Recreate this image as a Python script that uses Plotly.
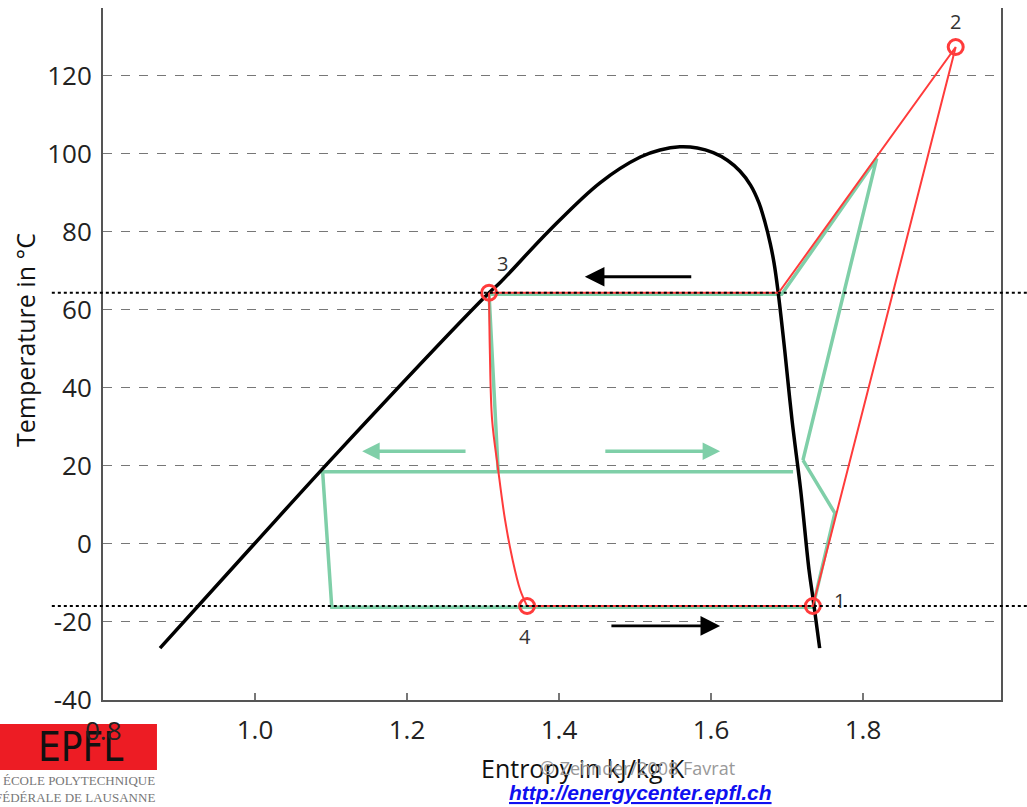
import plotly.graph_objects as go

# ---------------- data ----------------
# saturation dome (entropy kJ/kg K, temperature degC)
dome_s = [0.875, 0.999, 1.108, 1.308, 1.322, 1.388, 1.454, 1.507, 1.533, 1.559,
          1.582, 1.603, 1.622, 1.638, 1.652, 1.663, 1.671, 1.678, 1.683, 1.688, 1.697,
          1.7066, 1.718, 1.729, 1.734, 1.743]
dome_T = [-26.7, 0.0, 23.3, 64.4, 66.9, 80.5, 92.6, 99.2, 101.0, 101.8,
          101.5, 100.3, 98.3, 95.6, 92.0, 87.5, 82.5, 77.0, 72.0, 65.1, 49.7,
          31.8, 13.8, -6.7, -13.6, -26.7]

# single-stage cycle (red): 4 -> 1 -> 2 -> desuperheat -> condensation -> 3
red_s = [1.358, 1.734, 1.922, 1.818, 1.689, 1.308]
red_T = [-15.9, -15.9, 127.4, 99.2, 64.4, 64.4]
# throttling 3 -> 4 (red curve)
exp_s = [1.308, 1.309, 1.312, 1.320, 1.329, 1.339, 1.349, 1.358]
exp_T = [64.4, 49.7, 31.8, 19.0, 6.2, -4.1, -11.8, -15.9]

# two-stage cycle (green)
gup_s = [1.721, 1.818, 1.693, 1.308, 1.320]
gup_T = [21.5, 98.8, 64.0, 64.0, 18.5]
glo_s = [1.708, 1.089, 1.101, 1.734, 1.763, 1.721]
glo_T = [18.5, 18.5, -16.2, -16.2, 7.9, 21.5]

# state points
pt_label = ["1", "2", "3", "4"]
pt_s = [1.734, 1.922, 1.308, 1.358]
pt_T = [-15.9, 127.4, 64.4, -15.9]

T_cond = 64.4
T_evap = -15.9

x_ticks = [0.8, 1.0, 1.2, 1.4, 1.6, 1.8]
x_ticktext = ["", "1.0", "1.2", "1.4", "1.6", "1.8"]
y_ticks = [-40, -20, 0, 20, 40, 60, 80, 100, 120]
y_ticktext = ["-40", "-20", "0", "20", "40", "60", "80", "100", "120"]

# direction arrows: (tail_s, tail_T, head_s, head_T)
black_arrows = [(1.576, 68.5, 1.434, 68.5), (1.467, -21.0, 1.612, -21.0)]
green_arrows = [(1.279, 23.8, 1.141, 23.8), (1.459, 23.8, 1.612, 23.8)]

RED = "#ff3b3b"
GREEN = "#7fcfa8"
FONT = "Open Sans"

fig = go.Figure()
fig.add_trace(go.Scatter(x=gup_s, y=gup_T, mode="lines",
                         line=dict(color=GREEN, width=3.5), hoverinfo="skip"))
fig.add_trace(go.Scatter(x=glo_s, y=glo_T, mode="lines",
                         line=dict(color=GREEN, width=3.5), hoverinfo="skip"))
fig.add_trace(go.Scatter(x=dome_s, y=dome_T, mode="lines",
                         line=dict(color="black", width=3.5, shape="spline", smoothing=1.0),
                         hoverinfo="skip"))
fig.add_trace(go.Scatter(x=red_s, y=red_T, mode="lines",
                         line=dict(color=RED, width=2), hoverinfo="skip"))
fig.add_trace(go.Scatter(x=exp_s, y=exp_T, mode="lines",
                         line=dict(color=RED, width=2, shape="spline"), hoverinfo="skip"))
fig.add_trace(go.Scatter(x=pt_s, y=pt_T, mode="markers",
                         marker=dict(symbol="circle-open", size=15, color=RED,
                                     line=dict(width=3, color=RED)),
                         hoverinfo="skip"))

# state labels
shifts = {"1": (27, 5), "2": (0, 26), "3": (13, 29), "4": (-2, -31)}
for lab, s, T in zip(pt_label, pt_s, pt_T):
    dx, dy = shifts[lab]
    fig.add_annotation(x=s, y=T, text=lab, showarrow=False, xshift=dx, yshift=dy,
                       xanchor="center", yanchor="middle",
                       font=dict(family=FONT, size=20, color="#333"))

for (s0, T0, s1, T1) in black_arrows:
    fig.add_annotation(x=s1, y=T1, ax=s0, ay=T0, xref="x", yref="y",
                       axref="x", ayref="y", text="", showarrow=True,
                       arrowhead=2, arrowsize=1.4, arrowwidth=2.8, arrowcolor="black")
for (s0, T0, s1, T1) in green_arrows:
    fig.add_annotation(x=s1, y=T1, ax=s0, ay=T0, xref="x", yref="y",
                       axref="x", ayref="y", text="", showarrow=True,
                       arrowhead=2, arrowsize=1.0, arrowwidth=3.5, arrowcolor=GREEN)

# dotted reference lines at condensation / evaporation temperatures
for T in (T_cond, T_evap):
    fig.add_shape(type="line", xref="paper", yref="y", x0=-0.057, x1=1.03, y0=T, y1=T,
                  line=dict(color="black", width=2, dash="dot"), layer="above")

# EPFL logo
fig.add_shape(type="rect", xref="paper", yref="paper", x0=-0.1147, x1=0.0601,
              y0=-0.1012, y1=-0.0347, fillcolor="#ed1c24", line=dict(width=0),
              layer="below")
fig.add_annotation(xref="paper", yref="paper", x=-0.025, y=-0.068, text="EPFL",
                   xanchor="center", yanchor="middle", showarrow=False,
                   font=dict(family="DejaVu Sans Condensed", size=40, color="#111"))
fig.add_annotation(xref="paper", yref="paper", x=0.0601, y=-0.117, xanchor="right",
                   yanchor="middle", text="ÉCOLE POLYTECHNIQUE", showarrow=False,
                   font=dict(family="Liberation Serif", size=13, color="#777"))
fig.add_annotation(xref="paper", yref="paper", x=0.0601, y=-0.141, xanchor="right",
                   yanchor="middle", text="FÉDÉRALE DE LAUSANNE", showarrow=False,
                   font=dict(family="Liberation Serif", size=13, color="#777"))
# tick label 0.8 drawn over logo
fig.add_annotation(xref="x", yref="paper", x=0.8, y=-0.0434, text="0.8", showarrow=False,
                   xanchor="center", yanchor="middle",
                   font=dict(family=FONT, size=26, color="#222"))

# axis titles
fig.add_annotation(xref="paper", yref="paper", x=0.534, y=-0.098, text="Entropy in kJ/kg K",
                   xanchor="center", yanchor="middle",
                   showarrow=False, font=dict(family=FONT, size=25, color="#111"))
fig.add_annotation(xref="paper", yref="paper", x=0.484, y=-0.098, xanchor="left",
                   yanchor="middle", text="© Zehnder/2008 Favrat", showarrow=False,
                   font=dict(family=FONT, size=18, color="#999"))
fig.add_annotation(xref="paper", yref="paper", x=-0.087, y=0.52, text="Temperature in °C",
                   xanchor="center", yanchor="middle",
                   textangle=-90, showarrow=False, font=dict(family=FONT, size=25, color="#111"))
fig.add_annotation(xref="paper", yref="paper", x=0.598, y=-0.133,
                   xanchor="center", yanchor="middle",
                   text="<b><i>http://energycenter.epfl.ch</i></b>", showarrow=False,
                   font=dict(family="Liberation Sans", size=21, color="#1010f0",
                             lineposition="under"))

fig.update_layout(
    width=1027, height=807, autosize=False,
    margin=dict(l=103, r=26, t=8, b=107),
    paper_bgcolor="white", plot_bgcolor="white",
    showlegend=False,
    font=dict(family=FONT, color="#222"),
    xaxis=dict(range=[0.8, 1.9816], showgrid=False, zeroline=False,
               showline=True, linecolor="#555", linewidth=2,
               ticks="inside", ticklen=7, tickwidth=1.5, tickcolor="#777",
               tickvals=x_ticks, ticktext=x_ticktext,
               tickfont=dict(family=FONT, size=26, color="#222"),
               ticklabelstandoff=6),
    yaxis=dict(range=[-40, 137.4], showgrid=True, gridcolor="#777", griddash="dash",
               gridwidth=1.3, zeroline=False, showline=True, mirror=True,
               linecolor="#555", linewidth=2, ticks="",
               tickvals=y_ticks, ticktext=y_ticktext,
               tickfont=dict(family=FONT, size=26, color="#222"),
               ticklabelstandoff=4),
)

fig.write_html("out.html")
